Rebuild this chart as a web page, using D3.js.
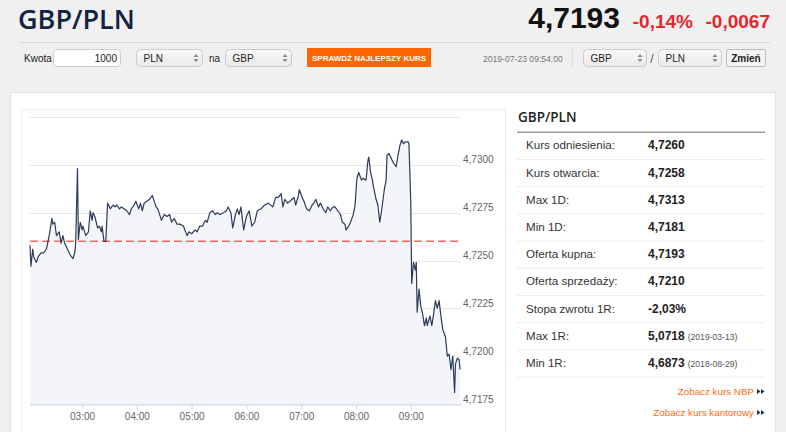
<!DOCTYPE html>
<html>
<head>
<meta charset="utf-8">
<script src="https://cdn.jsdelivr.net/npm/d3@7"></script>
<style>
  html, body { margin: 0; padding: 0; background: #f0f0f0; }
  svg { display: block; }
  text { font-family: "Liberation Sans", Arial, sans-serif; }
</style>
</head>
<body>
<div id="chart"></div>
<script>
// intraday GBP/PLN quotes (time, rate)
var times = ["02:03","02:04","02:06","02:07","02:10","02:12","02:15","02:18","02:21","02:24",
  "02:27","02:28","02:30","02:32","02:35","02:37","02:39","02:41","02:44","02:47",
  "02:50","02:52","02:53","02:55","02:56","02:58","03:00","03:01","03:04","03:07",
  "03:09","03:11","03:12","03:14","03:17","03:19","03:21","03:22","03:24","03:26",
  "03:28","03:31","03:34","03:36","03:38","03:41","03:43","03:46","03:49","03:52",
  "03:54","03:57","03:59","04:02","04:04","04:06","04:08","04:11","04:14","04:17",
  "04:19","04:21","04:23","04:25","04:27","04:30","04:33","04:36","04:38","04:41",
  "04:44","04:47","04:51","04:55","04:57","05:00","05:04","05:06","05:09","05:12",
  "05:15","05:17","05:20","05:23","05:26","05:28","05:31","05:35","05:38","05:40",
  "05:43","05:45","05:48","05:50","05:52","05:54","05:57","06:00","06:03","06:06",
  "06:09","06:12","06:16","06:20","06:24","06:29","06:32","06:35","06:38","06:40",
  "06:42","06:45","06:48","06:50","06:52","06:54","06:57","06:58","07:01","07:03",
  "07:06","07:09","07:12","07:14","07:16","07:19","07:21","07:24","07:27","07:29",
  "07:32","07:35","07:37","07:40","07:43","07:45","07:48","07:49","07:52","07:54",
  "07:57","07:59","08:01","08:03","08:06","08:08","08:11","08:13","08:14","08:16",
  "08:18","08:19","08:22","08:24","08:26","08:28","08:31","08:33","08:34","08:36",
  "08:38","08:41","08:44","08:46","08:48","08:50","08:52","08:54","08:57","08:58",
  "09:00","09:01","09:03","09:05","09:06","09:07","09:09","09:11","09:13","09:15",
  "09:17","09:18","09:21","09:23","09:25","09:27","09:29","09:31","09:33","09:35",
  "09:38","09:40","09:42","09:44","09:46","09:48","09:49","09:51","09:53","09:54"];
var rates = [4.7258,4.7247,4.7256,4.7252,4.7249,4.7252,4.7254,4.7254,4.7256,4.7263,
  4.7272,4.7269,4.7270,4.7263,4.7265,4.7259,4.7263,4.7259,4.7256,4.7253,
  4.7251,4.7254,4.7259,4.7298,4.7261,4.7270,4.7266,4.7268,4.7263,4.7265,
  4.7276,4.7271,4.7275,4.7273,4.7267,4.7268,4.7265,4.7268,4.7260,4.7260,
  4.7280,4.7277,4.7279,4.7278,4.7279,4.7277,4.7278,4.7277,4.7276,4.7274,
  4.7277,4.7279,4.7281,4.7277,4.7280,4.7276,4.7280,4.7281,4.7282,4.7284,
  4.7281,4.7278,4.7277,4.7274,4.7271,4.7274,4.7273,4.7274,4.7270,4.7272,
  4.7269,4.7269,4.7268,4.7263,4.7265,4.7264,4.7266,4.7265,4.7268,4.7268,
  4.7271,4.7270,4.7275,4.7276,4.7274,4.7275,4.7274,4.7275,4.7276,4.7278,
  4.7275,4.7267,4.7274,4.7277,4.7274,4.7278,4.7266,4.7273,4.7276,4.7268,
  4.7270,4.7276,4.7277,4.7279,4.7280,4.7278,4.7283,4.7283,4.7285,4.7278,
  4.7282,4.7280,4.7281,4.7282,4.7283,4.7279,4.7284,4.7287,4.7283,4.7281,
  4.7277,4.7276,4.7279,4.7280,4.7282,4.7278,4.7280,4.7277,4.7275,4.7278,
  4.7276,4.7278,4.7278,4.7276,4.7274,4.7270,4.7269,4.7266,4.7268,4.7270,
  4.7274,4.7279,4.7293,4.7296,4.7292,4.7293,4.7292,4.7302,4.7304,4.7296,
  4.7292,4.7289,4.7282,4.7279,4.7270,4.7276,4.7287,4.7292,4.7305,4.7306,
  4.7304,4.7301,4.7299,4.7305,4.7310,4.7313,4.7311,4.7312,4.7312,4.7311,
  4.7280,4.7238,4.7249,4.7245,4.7249,4.7223,4.7235,4.7226,4.7222,4.7216,
  4.7220,4.7216,4.7221,4.7216,4.7222,4.7229,4.7225,4.7229,4.7221,4.7214,
  4.7210,4.7200,4.7201,4.7193,4.7200,4.7181,4.7196,4.7199,4.7198,4.7193];
var refRate = 4.7260;
var xTickLabels = ["03:00","04:00","05:00","06:00","07:00","08:00","09:00"];
var yGridValues = [4.7175, 4.7200, 4.7225, 4.7250, 4.7275, 4.7300, 4.7325];
var yLabelValues = [4.7175, 4.7200, 4.7225, 4.7250, 4.7275, 4.7300];
var xDomain = ["02:03", "09:55"];

var statLabels = ["Kurs odniesienia:", "Kurs otwarcia:", "Max 1D:", "Min 1D:", "Oferta kupna:",
  "Oferta sprzedaży:", "Stopa zwrotu 1R:", "Max 1R:", "Min 1R:"];
var statValues = ["4,7260", "4,7258", "4,7313", "4,7181", "4,7193", "4,7210", "-2,03%", "5,0718", "4,6873"];
var statNotes = ["", "", "", "", "", "", "", "(2019-03-13)", "(2018-08-29)"];

var width = 786, height = 432;
var parseTime = d3.timeParse("%H:%M");
var comma = function (v) { return d3.format(".4f")(v).replace(".", ","); };

var data = times.map(function (t, i) { return {t: parseTime(t), v: rates[i]}; });

var svg = d3.select("#chart").append("svg")
        .attr("width", width)
        .attr("height", height);

svg.append("rect").attr("width", width).attr("height", height).attr("fill", "#f0f0f0");

// header
svg.append("text").attr("x", 18).attr("y", 28.5)
        .style("font-family", "'Open Sans', sans-serif").style("font-weight", 600)
        .attr("font-size", 27).attr("fill", "#13233f").text("GBP/PLN");
svg.append("text").attr("x", 620).attr("y", 28).attr("text-anchor", "end")
        .attr("font-size", 30).attr("font-weight", "bold").attr("fill", "#111").text("4,7193");
svg.append("text").attr("x", 693).attr("y", 28).attr("text-anchor", "end")
        .attr("font-size", 19).attr("font-weight", "bold").attr("fill", "#e8262d").text("-0,14%");
svg.append("text").attr("x", 770).attr("y", 28).attr("text-anchor", "end")
        .attr("font-size", 19).attr("font-weight", "bold").attr("fill", "#e8262d").text("-0,0067");
svg.append("line").attr("x1", 18).attr("x2", 770).attr("y1", 42.5).attr("y2", 42.5)
        .attr("stroke", "#d9d9d9");

// form controls
var form = svg.append("g");
form.append("text").attr("x", 24).attr("y", 62).attr("font-size", 10).attr("fill", "#222").text("Kwota");
form.append("rect").attr("x", 53.5).attr("y", 49.5).attr("width", 67).attr("height", 17).attr("rx", 3)
        .attr("fill", "#fff").attr("stroke", "#ccc");
form.append("text").attr("x", 117).attr("y", 62).attr("text-anchor", "end").attr("font-size", 10)
        .attr("fill", "#222").text("1000");

var grad = svg.append("defs").append("linearGradient").attr("id", "sel")
        .attr("x1", 0).attr("x2", 0).attr("y1", 0).attr("y2", 1);
grad.append("stop").attr("offset", "0%").attr("stop-color", "#fafafa");
grad.append("stop").attr("offset", "100%").attr("stop-color", "#e9e9e9");

function selectBox(x, w, label) {
    var g = form.append("g").attr("transform", "translate(" + x + ",49.5)");
    g.append("rect").attr("width", w).attr("height", 17).attr("rx", 4)
            .attr("fill", "url(#sel)").attr("stroke", "#ccc");
    g.append("text").attr("x", 7).attr("y", 12.5).attr("font-size", 10).attr("fill", "#222").text(label);
    g.append("path").attr("d", "M" + (w - 9) + ",7.5l2.5,-3l2.5,3z M" + (w - 9) + ",9.5l2.5,3l2.5,-3z")
            .attr("fill", "#888");
}
selectBox(136.5, 66, "PLN");
form.append("text").attr("x", 209).attr("y", 62).attr("font-size", 10).attr("fill", "#222").text("na");
selectBox(225.5, 66, "GBP");

form.append("rect").attr("x", 307).attr("y", 48).attr("width", 124).attr("height", 19).attr("fill", "#ff6600");
form.append("text").attr("x", 369).attr("y", 61).attr("text-anchor", "middle").attr("font-size", 8)
        .attr("font-weight", "bold").attr("fill", "#fff").text("SPRAWDŹ NAJLEPSZY KURS");
form.append("text").attr("x", 483).attr("y", 62).attr("font-size", 8.6).attr("fill", "#777")
        .text("2019-07-23 09:54:00");
form.append("line").attr("x1", 572.5).attr("x2", 572.5).attr("y1", 47).attr("y2", 69).attr("stroke", "#ddd");
selectBox(583.5, 63, "GBP");
form.append("text").attr("x", 652).attr("y", 63).attr("text-anchor", "middle").attr("font-size", 12)
        .attr("fill", "#555").text("/");
selectBox(658.5, 63, "PLN");
form.append("rect").attr("x", 726.5).attr("y", 49.5).attr("width", 39).attr("height", 17).attr("rx", 2)
        .attr("fill", "#f4f4f4").attr("stroke", "#bbb");
form.append("text").attr("x", 746).attr("y", 62).attr("text-anchor", "middle").attr("font-size", 10)
        .attr("font-weight", "bold").attr("fill", "#222").text("Zmień");

// panels
svg.append("rect").attr("x", 10.5).attr("y", 92.5).attr("width", 765).attr("height", 350)
        .attr("fill", "#fff").attr("stroke", "#e2e2e2");
svg.append("rect").attr("x", 21.5).attr("y", 109.5).attr("width", 484).attr("height", 340)
        .attr("fill", "#fff").attr("stroke", "#ececec");

// chart
var x = d3.scaleTime().domain(xDomain.map(parseTime)).range([30, 461]);
var y = d3.scaleLinear().domain([4.7175, 4.7325]).range([404, 117]);

var chart = svg.append("g");
chart.selectAll(".grid").data(yGridValues).enter().append("line")
        .attr("x1", 30).attr("x2", 461)
        .attr("y1", function (d) { return Math.round(y(d)) + 0.5; })
        .attr("y2", function (d) { return Math.round(y(d)) + 0.5; })
        .attr("stroke", "#e6e6e6");

var area = d3.area().x(function (d) { return x(d.t); })
        .y0(y(4.7175)).y1(function (d) { return y(d.v); });
var line = d3.line().x(function (d) { return x(d.t); }).y(function (d) { return y(d.v); });

chart.append("path").datum(data).attr("d", area).attr("fill", "#f4f5f8");
chart.append("line").attr("x1", 30).attr("x2", 461).attr("y1", y(refRate)).attr("y2", y(refRate))
        .attr("stroke", "#ff4040").attr("stroke-opacity", 0.8).attr("stroke-width", 1.5)
        .attr("stroke-dasharray", "8,4");
chart.append("path").datum(data).attr("d", line).attr("fill", "none")
        .attr("stroke", "#2b3b57").attr("stroke-width", 1.2).attr("stroke-linejoin", "round");

var xAxis = chart.append("g").attr("transform", "translate(0," + 404.5 + ")")
        .call(d3.axisBottom(x).tickValues(xTickLabels.map(parseTime))
                .tickFormat(d3.timeFormat("%H:%M")).tickSize(5).tickSizeOuter(0));
xAxis.select(".domain").attr("stroke", "#ccd6eb");
xAxis.selectAll(".tick line").attr("stroke", "#ccd6eb");
xAxis.selectAll(".tick text").attr("fill", "#666").attr("font-size", 10)
        .style("font-family", "'Liberation Sans', Arial, sans-serif");

chart.selectAll(".ylab").data(yLabelValues).enter().append("text")
        .attr("x", 463).attr("y", function (d) { return y(d) - 1.5; })
        .attr("font-size", 10).attr("fill", "#666").text(comma);

// stats table
var table = svg.append("g");
table.append("text").attr("x", 518).attr("y", 122)
        .style("font-family", "'Open Sans', sans-serif").style("font-weight", 600)
        .attr("font-size", 13.5).attr("fill", "#222").text("GBP/PLN");
table.append("line").attr("x1", 517).attr("x2", 765).attr("y1", 132.3).attr("y2", 132.3)
        .attr("stroke", "#999").attr("stroke-width", 1.4);

var rowTop = 132.3, rowH = 27.2;
var rows = table.selectAll(".row").data(statLabels).enter().append("g")
        .attr("transform", function (d, i) { return "translate(0," + (rowTop + rowH * i) + ")"; });
rows.append("line").attr("x1", 517).attr("x2", 765).attr("y1", rowH).attr("y2", rowH).attr("stroke", "#ececec");
rows.append("text").attr("x", 526).attr("y", 17).attr("font-size", 11.6).attr("fill", "#333")
        .text(function (d) { return d; });
rows.append("text").attr("x", 648).attr("y", 17).attr("font-size", 12).attr("font-weight", "bold")
        .attr("fill", "#222")
        .text(function (d, i) { return statValues[i]; })
        .append("tspan").attr("dx", 3).attr("font-size", 8.6).attr("font-weight", "normal").attr("fill", "#555")
        .text(function (d, i) { return statNotes[i]; });

function link(yPos, label) {
    table.append("text").attr("x", 754).attr("y", yPos).attr("text-anchor", "end")
            .attr("font-size", 9.8).attr("fill", "#ff6a13").text(label);
    table.append("path").attr("d", "M757," + (yPos - 6) + "l3.5,2.5l-3.5,2.5z M761," + (yPos - 6) + "l3.5,2.5l-3.5,2.5z")
            .attr("fill", "#1d2d4a");
}
link(395, "Zobacz kurs NBP");
link(416, "Zobacz kurs kantorowy");
</script>
</body>
</html>
